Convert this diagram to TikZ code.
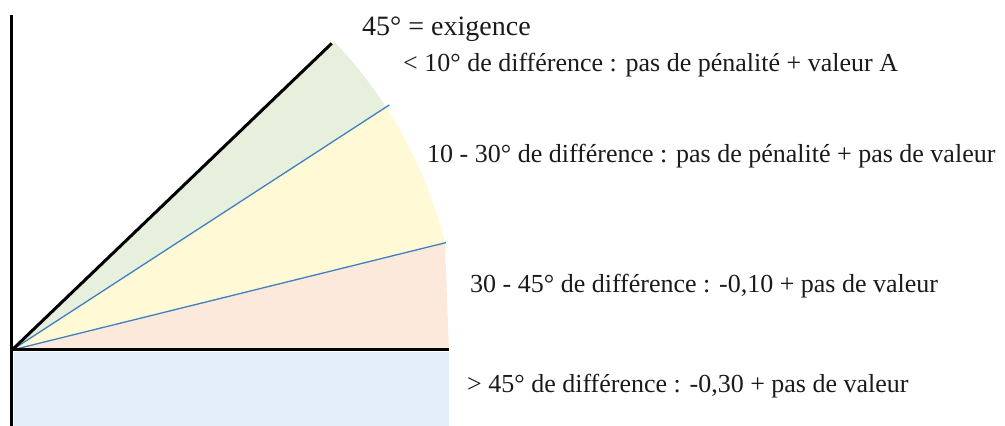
\documentclass[tikz,border=0pt]{standalone}
\usepackage{fontspec}
\setmainfont{Liberation Serif}
\definecolor{secgreen}{HTML}{E7F0DD}
\definecolor{secyellow}{HTML}{FFF9D6}
\definecolor{secpink}{HTML}{FDE9DC}
\definecolor{secblue}{HTML}{E3EEFA}
\definecolor{rayblue}{HTML}{3F7FBF}
\definecolor{txt}{HTML}{1A1A1A}
\begin{document}
\begin{tikzpicture}[x=1pt,y=1pt,
  axisline/.style={line width=3pt,black},
  rayline/.style={line width=1.3pt,rayblue},
  lbl/.style={anchor=base west,inner sep=0pt,text=txt,font=\fontsize{26}{30}\selectfont},
  biglbl/.style={anchor=base west,inner sep=0pt,text=txt,font=\fontsize{28}{32}\selectfont}]
\useasboundingbox (-12,-76) rectangle (993,350);
\coordinate (O) at (0,0);
% sectors
\fill[secgreen] (O) -- (43.8:446) arc[start angle=43.8,end angle=33,radius=446] -- cycle;
\fill[secyellow] (O) -- (33:446) arc[start angle=33,end angle=13.9,radius=446] -- cycle;
\fill[secpink] (O) -- (13.9:446) -- (437,0) -- cycle;
\fill[secblue] (2,-2) rectangle (437,-76);
% rays
\coordinate (r45) at (43.8:443);
\coordinate (r33) at (33:450);
\coordinate (r14) at (13.9:447);
\coordinate (xend) at (437,0);
\coordinate (ytop) at (0,335);
\coordinate (ybot) at (0,-76);
\draw[rayline] (O) -- (r33);
\draw[rayline] (O) -- (r14);
\draw[axisline] (O) -- (r45);
\draw[axisline] (ybot) -- (ytop);
\draw[axisline] (O) -- (xend);
% labels
\node[biglbl] (t0) at (350,314) {45° = exigence};
\node[lbl] (t1) at (391,278) {< 10° de différence : pas de pénalité + valeur A};
\node[lbl] (t2) at (415,187) {10 - 30° de différence : pas de pénalité + pas de valeur};
\node[lbl] (t3) at (458,57) {30 - 45° de différence : -0,10 + pas de valeur};
\node[lbl] (t4) at (455,-42) {> 45° de différence : -0,30 + pas de valeur};
\end{tikzpicture}
\end{document}
